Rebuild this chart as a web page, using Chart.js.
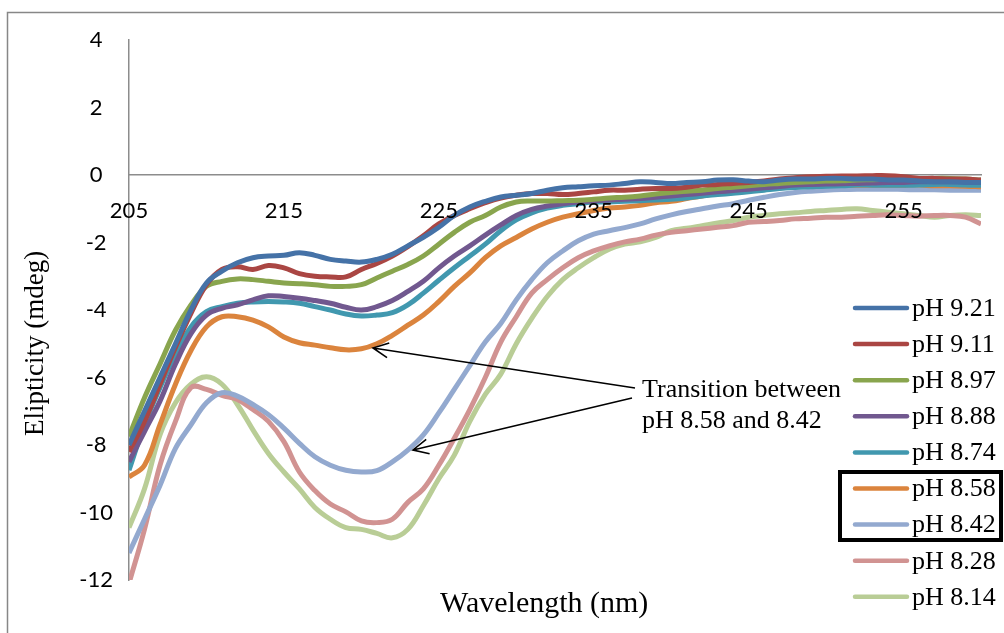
<!DOCTYPE html>
<html>
<head>
<meta charset="utf-8">
<script src="https://cdn.jsdelivr.net/npm/chart.js@4.4.1/dist/chart.umd.min.js"></script>
<style>
body { margin: 0; background: #fff; }
#wrap { position: relative; width: 1004px; height: 633px; overflow: hidden; }
</style>
</head>
<body>
<div id="wrap"><canvas id="myChart" width="1004" height="633"></canvas></div>
<script>
'use strict';
// wavelength (nm), one reading per nm
let wavelengths = [205, 206, 207, 208, 209, 210, 211, 212, 213, 214,
  215, 216, 217, 218, 219, 220, 221, 222, 223, 224,
  225, 226, 227, 228, 229, 230, 231, 232, 233, 234,
  235, 236, 237, 238, 239, 240, 241, 242, 243, 244,
  245, 246, 247, 248, 249, 250, 251, 252, 253, 254,
  255, 256, 257, 258, 259, 260];

let xTicks = [205, 215, 225, 235, 245, 255];

let seriesNames = ['pH 9.21', 'pH 9.11', 'pH 8.97', 'pH 8.88', 'pH 8.74', 'pH 8.58', 'pH 8.42', 'pH 8.28', 'pH 8.14'];
let seriesColors = ['#4572A7', '#AA4643', '#89A54E', '#71588F', '#4198AF', '#DB843D', '#93A9CF', '#D19392', '#B9CD96'];

let ph921 = [-8.0, -7.0, -6.0, -5.0, -4.0, -3.2, -2.85, -2.6, -2.45, -2.4,
  -2.38, -2.3, -2.38, -2.5, -2.55, -2.58, -2.5, -2.35, -2.1, -1.85,
  -1.55, -1.2, -0.95, -0.78, -0.65, -0.6, -0.55, -0.45, -0.38, -0.35,
  -0.32, -0.3, -0.25, -0.2, -0.22, -0.25, -0.22, -0.2, -0.15, -0.14,
  -0.18, -0.2, -0.15, -0.12, -0.12, -0.1, -0.1, -0.12, -0.12, -0.15,
  -0.15, -0.18, -0.2, -0.2, -0.22, -0.22];
let ph911 = [-8.2, -7.3, -6.2, -5.1, -4.1, -3.25, -2.8, -2.72, -2.8, -2.68,
  -2.75, -2.92, -3.0, -3.02, -3.02, -2.8, -2.62, -2.4, -2.12, -1.8,
  -1.45, -1.2, -1.0, -0.82, -0.68, -0.6, -0.55, -0.55, -0.58, -0.55,
  -0.5, -0.45, -0.45, -0.42, -0.4, -0.4, -0.36, -0.3, -0.28, -0.25,
  -0.22, -0.18, -0.12, -0.08, -0.05, -0.04, -0.03, -0.03, -0.02, -0.02,
  -0.05, -0.1, -0.1, -0.12, -0.12, -0.15];
let ph897 = [-7.75, -6.6, -5.6, -4.6, -3.85, -3.3, -3.15, -3.08, -3.1, -3.15,
  -3.2, -3.22, -3.25, -3.3, -3.3, -3.25, -3.05, -2.85, -2.65, -2.4,
  -2.05, -1.7, -1.4, -1.2, -0.95, -0.8, -0.77, -0.77, -0.76, -0.75,
  -0.72, -0.68, -0.66, -0.62, -0.56, -0.52, -0.48, -0.45, -0.4, -0.36,
  -0.32, -0.28, -0.25, -0.22, -0.2, -0.18, -0.17, -0.15, -0.14, -0.13,
  -0.12, -0.12, -0.1, -0.1, -0.12, -0.15];
let ph888 = [-8.5, -7.6, -6.7, -5.6, -4.7, -4.15, -3.95, -3.85, -3.7, -3.58,
  -3.6, -3.65, -3.72, -3.8, -3.92, -4.0, -3.9, -3.72, -3.45, -3.15,
  -2.75, -2.4, -2.1, -1.78, -1.48, -1.2, -1.02, -0.92, -0.85, -0.8,
  -0.77, -0.74, -0.72, -0.7, -0.66, -0.62, -0.58, -0.54, -0.5, -0.46,
  -0.42, -0.38, -0.34, -0.3, -0.28, -0.27, -0.26, -0.25, -0.24, -0.22,
  -0.22, -0.2, -0.2, -0.2, -0.2, -0.22];
let ph874 = [-8.75, -7.4, -6.3, -5.3, -4.5, -4.05, -3.9, -3.8, -3.76, -3.75,
  -3.76, -3.8, -3.9, -4.0, -4.12, -4.18, -4.15, -4.08, -3.85, -3.5,
  -3.12, -2.75, -2.4, -2.05, -1.65, -1.33, -1.12, -0.98, -0.9, -0.85,
  -0.8, -0.8, -0.78, -0.76, -0.74, -0.72, -0.68, -0.62, -0.58, -0.54,
  -0.5, -0.45, -0.4, -0.37, -0.35, -0.33, -0.32, -0.3, -0.3, -0.3,
  -0.3, -0.3, -0.28, -0.28, -0.3, -0.3];
let ph858 = [-8.95, -8.6, -7.4, -6.2, -5.2, -4.5, -4.2, -4.2, -4.3, -4.5,
  -4.8, -4.97, -5.04, -5.12, -5.18, -5.15, -5.0, -4.75, -4.45, -4.15,
  -3.75, -3.3, -2.9, -2.45, -2.1, -1.85, -1.6, -1.4, -1.25, -1.15,
  -1.05, -0.98, -0.95, -0.9, -0.82, -0.78, -0.7, -0.62, -0.55, -0.5,
  -0.45, -0.42, -0.38, -0.35, -0.32, -0.3, -0.3, -0.3, -0.3, -0.3,
  -0.3, -0.3, -0.32, -0.32, -0.33, -0.35];
let ph842 = [-11.2, -10.2, -9.2, -8.1, -7.4, -6.75, -6.45, -6.55, -6.8, -7.1,
  -7.5, -7.95, -8.35, -8.6, -8.75, -8.8, -8.76, -8.5, -8.15, -7.7,
  -7.05, -6.35, -5.65, -4.95, -4.4, -3.7, -3.1, -2.6, -2.25, -1.95,
  -1.75, -1.65, -1.56, -1.45, -1.3, -1.18, -1.08, -1.0, -0.92, -0.85,
  -0.75, -0.66, -0.58, -0.52, -0.48, -0.45, -0.43, -0.42, -0.42, -0.42,
  -0.43, -0.44, -0.44, -0.45, -0.45, -0.45];
let ph828 = [-12.1, -10.5, -8.6, -7.3, -6.3, -6.35, -6.53, -6.65, -6.95, -7.3,
  -7.9, -8.8, -9.35, -9.75, -9.98, -10.25, -10.3, -10.2, -9.7, -9.3,
  -8.6, -7.8, -6.95, -6.0, -4.95, -4.2, -3.5, -3.1, -2.75, -2.45,
  -2.25, -2.1, -1.98, -1.9, -1.78, -1.7, -1.65, -1.6, -1.55, -1.5,
  -1.4, -1.38, -1.35, -1.3, -1.28, -1.25, -1.25, -1.22, -1.2, -1.18,
  -1.2, -1.22, -1.2, -1.2, -1.25, -1.45];
let ph814 = [-10.45, -9.3, -7.7, -6.75, -6.2, -5.98, -6.2, -6.8, -7.55, -8.25,
  -8.8, -9.3, -9.85, -10.2, -10.45, -10.5, -10.62, -10.75, -10.5, -9.8,
  -9.0, -8.3, -7.3, -6.5, -5.9, -5.0, -4.25, -3.6, -3.1, -2.75,
  -2.45, -2.2, -2.05, -1.98, -1.85, -1.65, -1.58, -1.5, -1.42, -1.35,
  -1.25, -1.2, -1.15, -1.12, -1.08, -1.05, -1.02, -1.0, -1.05, -1.1,
  -1.15, -1.2, -1.25, -1.2, -1.18, -1.2];

let allSeries = [ph921, ph911, ph897, ph888, ph874, ph858, ph842, ph828, ph814];

let datasets = [];
for (let i = 0; i < allSeries.length; i++) {
  datasets.push({
    label: seriesNames[i],
    data: wavelengths.map((w, j) => ({ x: w, y: allSeries[i][j] })),
    borderColor: seriesColors[i],
    backgroundColor: seriesColors[i],
    borderWidth: 5,
    pointRadius: 0,
    tension: 0.4,
    fill: false
  });
}

// frame, axis titles, legend and the arrows
const extras = {
  id: 'extras',
  afterDraw(chart) {
    let ctx = chart.ctx;
    ctx.save();
    ctx.strokeStyle = '#878787';
    ctx.lineWidth = 1.5;
    ctx.beginPath();
    ctx.moveTo(7.5, 640);
    ctx.lineTo(7.5, 12.5);
    ctx.lineTo(1010, 12.5);
    ctx.stroke();

    ctx.fillStyle = '#000';
    ctx.textAlign = 'left';
    ctx.textBaseline = 'alphabetic';
    ctx.font = '30px "Liberation Serif"';
    ctx.fillText('Wavelength (nm)', 440, 612);

    ctx.save();
    ctx.translate(43, 436);
    ctx.rotate(-Math.PI / 2);
    ctx.font = '27px "Liberation Serif"';
    ctx.fillText('Elipticity (mdeg)', 0, 0);
    ctx.restore();

    // legend
    ctx.font = '26px "Liberation Serif"';
    ctx.textBaseline = 'middle';
    chart.data.datasets.forEach((ds, i) => {
      let y = 308 + i * 36.1;
      ctx.strokeStyle = ds.borderColor;
      ctx.lineWidth = 4.5;
      ctx.lineCap = 'round';
      ctx.beginPath();
      ctx.moveTo(855, y);
      ctx.lineTo(907, y);
      ctx.stroke();
      ctx.fillText(ds.label, 912, y + 1);
    });
    ctx.lineCap = 'butt';
    ctx.lineWidth = 4;
    ctx.strokeStyle = '#000';
    ctx.strokeRect(840, 472, 161, 68);

    // annotation
    ctx.textBaseline = 'alphabetic';
    ctx.fillText('Transition between', 642, 397);
    ctx.fillText('pH 8.58 and 8.42', 642, 428);
    drawArrow(ctx, 635, 388, 373, 348);
    drawArrow(ctx, 632, 398, 413, 450);
    ctx.restore();
  }
};

function drawArrow(ctx, x1, y1, x2, y2) {
  let a = Math.atan2(y1 - y2, x1 - x2);
  let len = 17, spread = 0.45;
  ctx.strokeStyle = '#000';
  ctx.lineWidth = 1.6;
  ctx.beginPath();
  ctx.moveTo(x1, y1);
  ctx.lineTo(x2, y2);
  ctx.moveTo(x2 + len * Math.cos(a + spread), y2 + len * Math.sin(a + spread));
  ctx.lineTo(x2, y2);
  ctx.lineTo(x2 + len * Math.cos(a - spread), y2 + len * Math.sin(a - spread));
  ctx.stroke();
}

let ctx = document.getElementById('myChart').getContext('2d');
let myChart = new Chart(ctx, {
  type: 'line',
  data: { datasets: datasets },
  plugins: [extras],
  options: {
    responsive: false,
    animation: false,
    layout: { padding: { top: 40, right: 23, bottom: 53, left: 0 } },
    plugins: {
      legend: { display: false },
      tooltip: { enabled: false }
    },
    scales: {
      x: {
        type: 'linear',
        position: { y: 0 },
        min: 205,
        max: 260,
        afterBuildTicks: (scale) => { scale.ticks = xTicks.map(v => ({ value: v })); },
        grid: { display: false, drawTicks: false },
        border: { display: true, color: '#8c8c8c', width: 1.5 },
        ticks: {
          z: 1,
          color: '#000',
          font: { family: 'Lato', size: 22 },
          padding: 23,
          maxRotation: 0,
          autoSkip: false
        }
      },
      y: {
        min: -12,
        max: 4,
        afterFit: (scale) => { scale.width = 129; },
        grid: { display: false, drawTicks: false },
        border: { display: true, color: '#8c8c8c', width: 1.5 },
        ticks: {
          stepSize: 2,
          color: '#000',
          crossAlign: 'center',
          padding: 16,
          font: { family: 'Lato', size: 22 }
        }
      }
    }
  }
});
</script>
</body>
</html>
